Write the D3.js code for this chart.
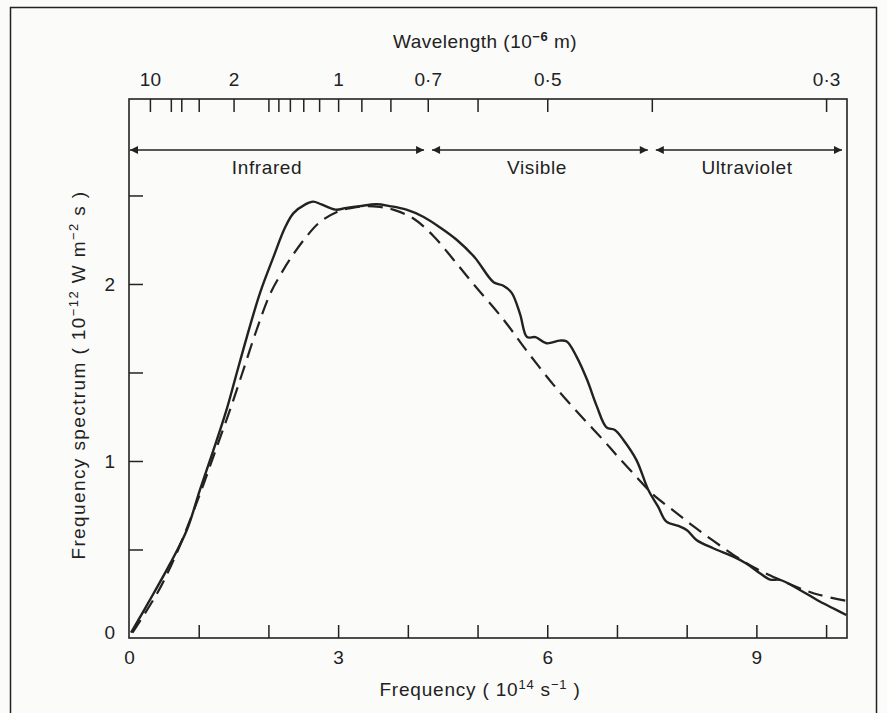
<!DOCTYPE html>
<html>
<head>
<meta charset="utf-8">
<script src="https://cdn.jsdelivr.net/npm/d3@7"></script>
<style>
  body { margin: 0; background: #fbfbfa; }
  text { font-family: "Liberation Sans", Arial, sans-serif; fill: #222; }
</style>
</head>
<body>
<div id="chart"></div>
<script>
// Observed solar spectrum (solid line), frequency in 10^14 s^-1
var solidFreq = [0.03, 0.35, 0.59, 0.83, 1.02, 1.21, 1.40, 1.52, 1.69, 1.88, 2.07, 2.24, 2.36, 2.53, 2.64, 2.76,
    2.96, 3.12, 3.31, 3.55, 3.74, 3.98, 4.22, 4.46, 4.70, 4.96, 5.23, 5.37, 5.49, 5.61, 5.71, 5.83, 5.99,
    6.18, 6.28, 6.42, 6.57, 6.71, 6.85, 6.97, 7.09, 7.28, 7.45, 7.59, 7.71, 7.88, 8.00, 8.14, 8.38, 8.67,
    8.86, 9.05, 9.20, 9.34, 9.63, 9.87, 10.10, 10.29]
var solidValue = [0.03, 0.25, 0.42, 0.61, 0.84, 1.06, 1.29, 1.46, 1.70, 1.95, 2.15, 2.32, 2.40, 2.45, 2.465, 2.45,
    2.42, 2.43, 2.44, 2.45, 2.44, 2.42, 2.38, 2.32, 2.25, 2.15, 2.01, 1.99, 1.95, 1.83, 1.70, 1.70, 1.665,
    1.68, 1.675, 1.59, 1.46, 1.31, 1.19, 1.175, 1.12, 1.005, 0.836, 0.742, 0.657, 0.633, 0.61, 0.554, 0.507, 0.46,
    0.42, 0.366, 0.33, 0.328, 0.27, 0.215, 0.168, 0.13]

// Black body curve (dashed line)
var dashFreq = [0.05, 0.40, 0.64, 0.88, 1.07, 1.26, 1.45, 1.62, 1.83, 2.02, 2.17, 2.31, 2.53, 2.74, 3.00, 3.20,
    3.41, 3.60, 3.79, 4.08, 4.37, 4.65, 4.94, 5.37, 5.71, 6.09, 6.47, 6.80, 7.00, 7.28, 7.52, 7.81, 8.10,
    8.38, 8.67, 8.96, 9.29, 9.63, 9.91, 10.29]
var dashValue = [0.03, 0.25, 0.44, 0.67, 0.87, 1.08, 1.29, 1.49, 1.74, 1.94, 2.05, 2.14, 2.26, 2.35, 2.41, 2.43,
    2.44, 2.435, 2.42, 2.37, 2.27, 2.14, 2.00, 1.80, 1.62, 1.43, 1.26, 1.12, 1.03, 0.91, 0.81, 0.72, 0.63,
    0.55, 0.47, 0.40, 0.337, 0.28, 0.243, 0.21]

// Axis ticks
var freqTicks = [1, 2, 3, 4, 5, 6, 7, 8, 9, 10]
var freqLabels = [0, 3, 6, 9]
var specTicks = [0.5, 1, 1.5, 2, 2.5]
var specLabels = [0, 1, 2]
var waveTicks = [10, 5, 4, 3, 2, 1.5, 1.4, 1.3, 1.2, 1.1, 1, 0.9, 0.8, 0.7, 0.6, 0.5, 0.4, 0.3]
var waveLabels = [10, 2, 1, 0.7, 0.5, 0.3]
var waveLabelText = ["10", "2", "1", "0·7", "0·5", "0·3"]

// Spectral regions (frequency range)
var regionNames = ["Infrared", "Visible", "Ultraviolet"]
var regionStart = [0, 4.29, 7.5]
var regionEnd = [4.29, 7.5, 10.3]

var width = 887, height = 713
var ink = "#222"
var fontSize = "19px"

var svg = d3.select("#chart")
    .append("svg")
    .attr("width", width)
    .attr("height", height)

// outer frame of the figure
svg.append("rect")
    .attr("x", 10.5).attr("y", 7.5)
    .attr("width", 866).attr("height", 720)
    .attr("fill", "none")
    .attr("stroke", ink)
    .attr("stroke-width", 1.5)

var x = d3.scaleLinear().domain([0, 10.3]).range([129, 847])
var y = d3.scaleLinear().domain([0, 3.045]).range([638, 99])

// plot frame
svg.append("rect")
    .attr("x", x(0)).attr("y", y(3.045))
    .attr("width", x(10.3) - x(0)).attr("height", y(0) - y(3.045))
    .attr("fill", "none")
    .attr("stroke", ink)
    .attr("stroke-width", 1.6)

function styleAxis(g) {
    g.attr("font-size", fontSize).attr("font-family", "'Liberation Sans', Arial, sans-serif")
    g.select(".domain").remove()
    g.selectAll("line").attr("stroke", ink).attr("stroke-width", 1.5)
    g.selectAll("text").attr("fill", ink)
}

// ----------------- //
// Bottom axis
// ----------------- //
svg.append("g")
    .attr("transform", "translate(0," + y(0) + ")")
    .call(d3.axisTop(x).tickValues(freqTicks).tickSize(13).tickFormat(""))
    .call(styleAxis)
svg.append("g")
    .attr("transform", "translate(0," + y(0) + ")")
    .call(d3.axisBottom(x).tickValues(freqLabels).tickSize(0).tickPadding(13).tickFormat(d3.format("d")))
    .call(styleAxis)

// ----------------- //
// Left axis
// ----------------- //
svg.append("g")
    .attr("transform", "translate(" + x(0) + ",0)")
    .call(d3.axisRight(y).tickValues(specTicks).tickSize(14).tickFormat(""))
    .call(styleAxis)
svg.append("g")
    .attr("transform", "translate(" + x(0) + ",0)")
    .call(d3.axisLeft(y).tickValues(specLabels).tickSize(0).tickPadding(14).tickFormat(d3.format("d")))
    .call(styleAxis)
    .selectAll("text").attr("dy", function(d) { return d === 0 ? "0.05em" : "0.32em" })

// ----------------- //
// Top axis (wavelength)
// ----------------- //
svg.append("g")
    .attr("transform", "translate(0," + y(3.045) + ")")
    .call(d3.axisBottom(x).tickValues(waveTicks.map(function(l) { return 3 / l })).tickSize(13).tickFormat(""))
    .call(styleAxis)
svg.append("g")
    .attr("transform", "translate(0," + y(3.045) + ")")
    .call(d3.axisTop(x).tickValues(waveLabels.map(function(l) { return 3 / l })).tickSize(0).tickPadding(13)
        .tickFormat(function(d, i) { return waveLabelText[i] }))
    .call(styleAxis)

// ----------------- //
// Region arrows
// ----------------- //
var defs = svg.append("defs")
defs.append("marker")
    .attr("id", "head")
    .attr("viewBox", "0 0 10 10")
    .attr("refX", 10).attr("refY", 5)
    .attr("markerWidth", 14).attr("markerHeight", 8)
    .attr("markerUnits", "userSpaceOnUse")
    .attr("orient", "auto-start-reverse")
    .append("path")
    .attr("d", "M0,0 L10,5 L0,10 Z")
    .attr("fill", ink)

var arrowY = 150
regionNames.forEach(function(name, i) {
    var x0 = x(regionStart[i]) + (i === 0 ? 1 : 4)
    var x1 = x(regionEnd[i]) - (i === 2 ? 5 : 4)
    svg.append("line")
        .attr("x1", x0).attr("x2", x1)
        .attr("y1", arrowY).attr("y2", arrowY)
        .attr("stroke", ink)
        .attr("stroke-width", 1.4)
        .attr("marker-start", "url(#head)")
        .attr("marker-end", "url(#head)")
    svg.append("text")
        .attr("x", [267, 537, 747][i])
        .attr("y", 174)
        .attr("text-anchor", "middle")
        .attr("font-size", fontSize)
        .attr("letter-spacing", "0.6px")
        .text(name)
})

// ----------------- //
// Curves
// ----------------- //
var line = d3.line()
    .x(function(d) { return x(d[0]) })
    .y(function(d) { return y(d[1]) })
    .curve(d3.curveCatmullRom.alpha(0.5))

svg.append("path")
    .datum(dashFreq.map(function(f, i) { return [f, dashValue[i]] }))
    .attr("d", line)
    .attr("fill", "none")
    .attr("stroke", ink)
    .attr("stroke-width", 2.2)
    .attr("stroke-dasharray", "15,8")

svg.append("path")
    .datum(solidFreq.map(function(f, i) { return [f, solidValue[i]] }))
    .attr("d", line)
    .attr("fill", "none")
    .attr("stroke", ink)
    .attr("stroke-width", 2.4)

// ----------------- //
// Axis titles
// ----------------- //
var titleTop = svg.append("text")
    .attr("x", 485).attr("y", 48)
    .attr("text-anchor", "middle")
    .attr("font-size", fontSize)
    .attr("letter-spacing", "0.5px")
titleTop.append("tspan").text("Wavelength  (10")
titleTop.append("tspan").attr("dy", -7).attr("font-size", "13px").attr("font-weight", "bold").text("−6")
titleTop.append("tspan").attr("dy", 7).text(" m)")

var titleBottom = svg.append("text")
    .attr("x", 480).attr("y", 696)
    .attr("text-anchor", "middle")
    .attr("font-size", fontSize)
    .attr("letter-spacing", "0.8px")
titleBottom.append("tspan").text("Frequency  ( 10")
titleBottom.append("tspan").attr("dy", -7).attr("font-size", "13px").text("14")
titleBottom.append("tspan").attr("dy", 7).text("  s")
titleBottom.append("tspan").attr("dy", -7).attr("font-size", "13px").text("−1")
titleBottom.append("tspan").attr("dy", 7).text(" )")

var titleLeft = svg.append("text")
    .attr("transform", "translate(85,375) rotate(-90)")
    .attr("text-anchor", "middle")
    .attr("font-size", fontSize)
    .attr("letter-spacing", "1.4px")
titleLeft.append("tspan").text("Frequency spectrum  ( 10")
titleLeft.append("tspan").attr("dy", -7).attr("font-size", "13px").text("−12")
titleLeft.append("tspan").attr("dy", 7).text(" W m")
titleLeft.append("tspan").attr("dy", -7).attr("font-size", "13px").text("−2")
titleLeft.append("tspan").attr("dy", 7).text(" s )")
</script>
</body>
</html>
